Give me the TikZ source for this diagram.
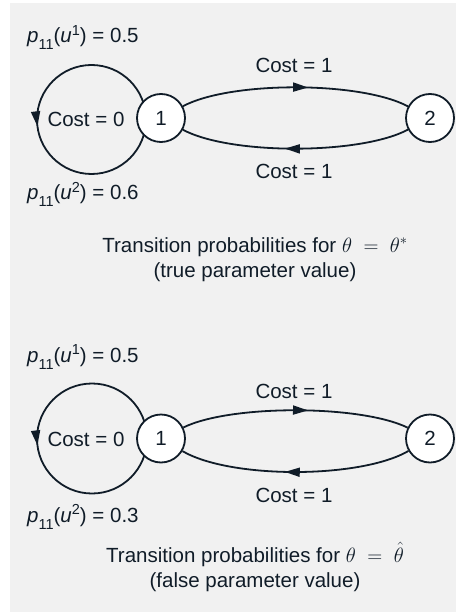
\documentclass[tikz,border=0pt]{standalone}
\usepackage{fontspec}
\setmainfont{Liberation Sans}
\usetikzlibrary{arrows.meta,decorations.markings}
\definecolor{bg}{RGB}{241,241,241}
\definecolor{ink}{RGB}{16,28,40}
\newcommand{\mysub}[1]{\raisebox{-7pt}{\fontsize{14.5}{14.5}\selectfont #1}}
\newcommand{\mysup}[1]{\raisebox{7.3pt}{\fontsize{14.5}{14.5}\selectfont #1}}
\begin{document}
\begin{tikzpicture}[x=1pt,y=-1pt,
  every node/.style={font=\fontsize{20.5}{24}\selectfont, text=ink},
  state/.style={circle, draw=ink, line width=1.8pt, fill=white, minimum size=48pt, inner sep=0pt},
  edge/.style={draw=ink, line width=1.8pt},
  midarrow/.style={postaction={decorate}, decoration={markings, mark=at position #1 with {\arrow[ink]{Triangle[length=15pt,width=9pt]}}}},
  lbltext/.style={anchor=base west, inner sep=0pt},
  captext/.style={anchor=base, inner sep=0pt}
]
\useasboundingbox (0,0) rectangle (456,612);
\fill[bg] (10,3) rectangle (456,612);

% ---------- upper diagram ----------
\coordinate (c1) at (91.5,119.5);
\path[edge, midarrow=0.52] (c1) ++(54.5,0) arc[start angle=0, end angle=-360, radius=54.5];
\node[state] (n1) at (161,118) {1};
\node[state] (n2) at (430,118) {2};
\draw[edge, midarrow=0.555] (n1) .. controls (230,81) and (360,81) .. (n2);
\draw[edge, midarrow=0.546] (n2) .. controls (360,155) and (230,155) .. (n1);
\node (k0) at (86,119) {Cost = 0};
\node (k1) at (294,65) {Cost = 1};
\node (k2) at (294,171) {Cost = 1};
\node[lbltext] (p1) at (27,43) {\textit{p}\mysub{11}(\textit{u}\mysup{1}) = 0.5};
\node[lbltext] (p2) at (27,200) {\textit{p}\mysub{11}(\textit{u}\mysup{2}) = 0.6};
\node[captext] (t1) at (255,252) {Transition probabilities for $\theta\ =\ \theta^{*}$};
\node[captext] (t2) at (255,277) {(true parameter value)};

% ---------- lower diagram ----------
\coordinate (c2) at (92,438.5);
\path[edge, midarrow=0.52] (c2) ++(55,0) arc[start angle=0, end angle=-360, radius=55];
\node[state] (m1) at (161,438.5) {1};
\node[state] (m2) at (430,438.5) {2};
\draw[edge, midarrow=0.555] (m1) .. controls (230,404.5) and (360,404.5) .. (m2);
\draw[edge, midarrow=0.546] (m2) .. controls (360,479) and (230,479) .. (m1);
\node (l0) at (86,439) {Cost = 0};
\node (l1) at (294,391) {Cost = 1};
\node (l2) at (294,495) {Cost = 1};
\node[lbltext] (q1) at (27,362) {\textit{p}\mysub{11}(\textit{u}\mysup{1}) = 0.5};
\node[lbltext] (q2) at (27,522) {\textit{p}\mysub{11}(\textit{u}\mysup{2}) = 0.3};
\node[captext] (s1) at (255,562) {Transition probabilities for $\theta\ =\ \hat{\theta}$};
\node[captext] (s2) at (255,587) {(false parameter value)};
\end{tikzpicture}
\end{document}
